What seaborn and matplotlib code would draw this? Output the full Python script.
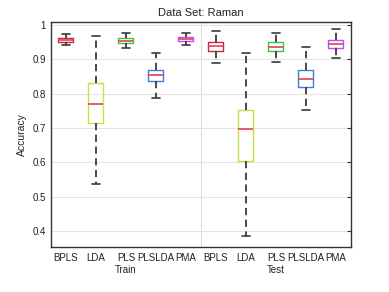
import numpy as np
import pandas as pd
import matplotlib
import matplotlib.pyplot as plt
import matplotlib.transforms as mtransforms
import seaborn as sns
from matplotlib.ticker import FixedLocator, FuncFormatter

matplotlib.use('Agg')

# Box summaries (min, q1, median, q3, max)
methods = ["BPLS", "LDA", "PLS", "PLSLDA", "PMA"]
groups = ["Train", "Test"]

train_min = [0.941, 0.538, 0.934, 0.788, 0.943]
train_q1 = [0.950, 0.713, 0.948, 0.837, 0.954]
train_med = [0.956, 0.770, 0.954, 0.854, 0.960]
train_q3 = [0.961, 0.830, 0.961, 0.870, 0.965]
train_max = [0.973, 0.969, 0.976, 0.918, 0.978]

test_min = [0.890, 0.385, 0.893, 0.752, 0.905]
test_q1 = [0.925, 0.603, 0.925, 0.820, 0.932]
test_med = [0.940, 0.696, 0.937, 0.844, 0.945]
test_q3 = [0.951, 0.752, 0.949, 0.869, 0.956]
test_max = [0.983, 0.917, 0.976, 0.937, 0.988]

colors = ["#c8283f", "#c6e04a", "#3cc43c", "#3f7fd6", "#c44fe6"]

# Build a long table: five points per box reproduce the summary exactly
stats = {
    "Train": [train_min, train_q1, train_med, train_q3, train_max],
    "Test": [test_min, test_q1, test_med, test_q3, test_max],
}
rows = []
slot_order = []
for g in groups:
    for i, m in enumerate(methods):
        slot = f"{g}-{m}"
        slot_order.append(slot)
        for s in stats[g]:
            rows.append({"slot": slot, "method": m, "group": g, "acc": s[i]})
df = pd.DataFrame(rows)

sns.set_style("white")
plt.rcParams['font.family'] = ['Liberation Sans', 'DejaVu Sans']

fig = plt.figure(figsize=(3.89, 2.92), dpi=100)
ax = fig.add_axes([0.131, 0.154, 0.771, 0.771])

sns.boxplot(data=df, x="slot", y="acc", hue="method", order=slot_order,
            hue_order=methods, palette=colors, dodge=False, fill=False,
            width=0.5, whis=(0, 100), linewidth=1.0, legend=False, ax=ax,
            medianprops=dict(color="#e5405c", linewidth=1.2),
            whiskerprops=dict(color="#3a3a3a", linestyle=(0, (4, 2.5)), linewidth=1.3),
            capprops=dict(color="#3a3a3a", linewidth=1.2))

ax.set_ylim(0.353, 1.009)
ax.set_xlim(-0.5, 9.5)
ax.yaxis.set_major_locator(FixedLocator([0.4, 0.5, 0.6, 0.7, 0.8, 0.9, 1.0]))
ax.yaxis.set_major_formatter(FuncFormatter(lambda v, p: "1" if abs(v - 1) < 1e-9 else f"{v:.1f}"))
ax.grid(True, axis="y", color="#e4e4e4", linewidth=0.8)
ax.set_axisbelow(True)
ax.axvline(4.5, color="#dddddd", linewidth=0.8, zorder=0)

ax.set_xticks(range(10))
ax.set_xticklabels(methods * 2)
ax.set_xticks([4.5], minor=True)
ax.tick_params(axis="x", which="major", length=0, labelsize=7, colors="#222222", pad=4)
ax.tick_params(axis="x", which="minor", direction="in", length=3, color="#333333")
ax.tick_params(axis="y", direction="in", length=3, labelsize=7, colors="#333333",
               right=True, labelcolor="#222222")

for sp in ax.spines.values():
    sp.set_visible(True)
    sp.set_color("#333333")
    sp.set_linewidth(1.0)

ax.set_xlabel("")
ax.set_ylabel("Accuracy", fontsize=7.5, color="#222222", labelpad=4)
ax.set_title("Data Set: Raman", fontsize=8, color="#222222", pad=4)

trans = mtransforms.blended_transform_factory(ax.transData, ax.transAxes)
ax.text(2, -0.08, "Train", transform=trans, ha="center", va="top", fontsize=7, color="#222222")
ax.text(7, -0.08, "Test", transform=trans, ha="center", va="top", fontsize=7, color="#222222")

fig.savefig("out.png", dpi=100, facecolor="white")
plt.close(fig)
